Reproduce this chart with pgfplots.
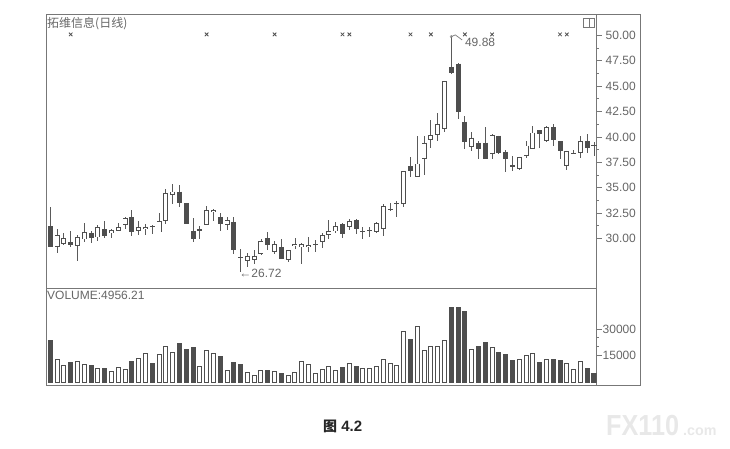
\documentclass[border=0pt]{standalone}
\usepackage{fontspec}
\setmainfont{Liberation Sans}
\newfontfamily\cjk{Noto Sans CJK SC}
\usepackage{pgfplots}
\usepackage{pgfplotstable}
\pgfplotsset{compat=1.18}
\definecolor{dk}{HTML}{4E4E4E}
\definecolor{wk}{HTML}{5A5A5A}
\definecolor{fr}{HTML}{777777}
\definecolor{tx}{HTML}{666666}
\definecolor{wm}{HTML}{E8E8E8}
% filled candles: index high top bottom low volume
\pgfplotstableread{
i hi top bot lo vol
1 33.11 31.21 29.18 29.18 23790
4 30.72 29.61 29.34 29.11 11050
7 30.75 30.56 30.03 29.51 9370
9 31.70 30.92 30.23 30.00 8050
13 32.85 32.07 30.62 30.23 11990
16 31.31 31.21 31.11 30.43 10860
20 35.25 34.62 33.51 33.11 22100
21 33.51 33.51 31.41 31.41 18730
22 31.97 30.75 29.90 29.67 19850
26 32.52 32.13 31.41 30.72 14800
28 32.07 31.64 28.85 28.46 11430
29 28.92 28.16 28.03 26.72 10300
33 30.66 30.00 29.31 28.85 6740
35 29.90 29.11 28.00 28.00 5240
44 31.54 31.38 30.46 30.07 8620
46 31.87 31.80 30.89 30.39 9180
54 38.00 37.11 36.66 36.07 24160
60 49.88 46.89 46.30 46.23 42140
61 47.28 47.21 42.46 41.74 42140
62 42.10 41.51 39.51 38.79 39900
64 39.61 39.44 38.85 37.80 20230
65 40.98 39.44 37.87 37.80 22480
67 40.13 40.13 38.43 38.30 16860
68 38.75 38.56 37.80 36.56 15730
69 38.10 37.21 37.08 36.66 12360
73 40.72 40.66 40.26 38.95 11240
75 41.25 40.95 39.67 39.08 12920
76 39.61 39.57 38.59 37.87 12360
80 40.33 39.57 38.95 38.43 7870
81 39.51 39.21 39.15 38.10 5060
}\filled
% hollow candles
\pgfplotstableread{
i hi top bot lo vol
2 30.98 30.30 29.18 28.52 13110
3 30.56 30.00 29.44 29.34 9370
5 30.33 30.16 29.25 27.80 11990
6 31.48 30.66 29.90 29.67 10110
8 31.31 31.08 30.10 29.74 8050
10 30.98 30.85 30.49 30.00 6370
11 31.54 31.15 30.75 30.75 8620
12 32.07 32.03 31.31 30.98 7490
14 31.74 31.15 30.72 30.33 13670
15 31.41 31.15 30.89 30.33 16480
17 32.46 31.74 30.59 30.59 15920
18 34.92 34.43 31.74 31.41 20230
19 35.41 34.62 34.30 33.38 17040
23 31.21 30.89 30.75 29.90 9180
24 33.18 32.79 31.31 31.31 18170
25 32.89 32.79 32.59 31.74 16480
27 32.07 31.80 31.34 30.82 6930
30 28.52 28.30 27.74 27.15 5810
31 28.85 28.30 27.90 27.44 4120
32 29.90 29.74 28.49 28.33 6740
34 29.77 29.44 28.69 28.46 6370
36 28.85 28.85 27.87 27.67 4120
37 30.00 29.44 29.25 28.92 5620
38 29.51 29.44 29.11 27.47 11800
39 30.10 29.31 29.11 28.62 10110
40 29.84 29.41 29.31 28.69 5240
41 30.56 30.30 29.61 29.08 7490
42 31.80 30.75 30.36 29.90 8990
43 31.61 31.21 30.69 30.56 6930
45 31.87 31.74 31.15 30.82 10490
47 31.08 30.72 30.59 29.97 7870
48 31.08 30.82 30.72 30.16 7870
49 31.64 31.48 30.66 30.56 9180
50 33.44 33.18 30.98 30.26 12920
51 33.51 32.92 32.79 32.66 10490
52 33.67 33.51 33.41 32.13 9550
53 36.62 36.62 33.44 33.11 28660
55 40.07 37.38 36.10 36.10 31470
56 40.07 39.44 37.87 36.26 18170
57 41.70 40.20 39.74 38.89 20230
58 42.39 41.28 40.23 39.61 20230
59 45.51 45.51 40.82 40.49 23600
63 40.46 39.93 39.02 38.59 18540
66 40.26 40.20 38.36 37.80 19670
70 38.03 38.03 36.85 36.79 12920
71 39.61 39.15 38.13 37.97 15170
72 41.08 40.43 38.85 38.85 16300
74 41.05 40.98 39.57 39.51 12920
77 38.66 38.62 37.15 36.79 10490
78 38.69 38.43 38.36 38.30 7300
79 40.07 39.57 38.43 37.97 11800
}\hollow
\pgfplotsset{
  panel/.style={
    scale only axis, width=550.5pt, anchor=south west,
    xmin=0.367, xmax=81.37, xtick=\empty,
    ytick pos=right, yticklabel pos=right,
    axis line style={color=fr,line width=0.9pt},
    tick style={color=fr,line width=0.8pt},
    tick align=outside,
    major tick length=5pt, minor tick length=2pt,
    yticklabel style={color=tx,anchor=west,inner sep=0pt,xshift=4pt},
    /pgf/number format/assume math mode=true,
    every axis plot/.append style={forget plot},
  },
  wick/.style={draw=none,mark=none,error bars/.cd,y dir=both,y explicit,error mark=none,
    error bar style={draw=wk,line width=0.9pt}},
  body/.style={draw=none,mark=none,error bars/.cd,y dir=minus,y explicit,error mark=none,
    error bar style={draw=dk,line width=5pt}},
  innerbody/.style={draw=none,mark=none,error bars/.cd,y dir=minus,y explicit,error mark=none,
    error bar style={draw=white,line width=3.2pt}},
}
\begin{document}
\begin{tikzpicture}[x=1pt,y=1pt,every node/.style={font=\fontsize{12}{14}\selectfont}]
\path[use as bounding box] (0,0) rectangle (730,449);
\begin{axis}[panel,at={(46pt,161pt)},height=273.5pt,
  ymin=25.12,ymax=52.06,
  ytick={30,32.5,35,37.5,40,42.5,45,47.5,50},
  minor y tick num=1,
  yticklabel style={/pgf/number format/.cd,fixed,fixed zerofill,precision=2},
  clip=false]
\addplot[wick] table[x=i,y=top,y error plus expr=\thisrow{hi}-\thisrow{top},y error minus expr=\thisrow{top}-\thisrow{lo}]{\filled};
\addplot[wick] table[x=i,y=top,y error plus expr=\thisrow{hi}-\thisrow{top},y error minus expr=\thisrow{top}-\thisrow{lo}]{\hollow};
\addplot[body] table[x=i,y=top,y error minus expr=\thisrow{top}-\thisrow{bot}]{\filled};
\addplot[body] table[x=i,y=top,y error minus expr=\thisrow{top}-\thisrow{bot}]{\hollow};
\addplot[innerbody] table[x=i,y expr=\thisrow{top}-0.09,y error minus expr={max(\thisrow{top}-\thisrow{bot}-0.18,0)}]{\hollow};
% signal marks along the top
\addplot[only marks,mark=x,mark size=2.5pt,color=dk,mark options={line width=0.8pt}] coordinates {
(4,50.1)(24,50.1)(34,50.1)(44,50.1)(45,50.1)(54,50.1)(57,50.1)(62,50.1)(66,50.1)(76,50.1)(77,50.1)};
% leader of the high
\addplot[color=fr,line width=0.7pt,mark=none] coordinates {(60,49.88)(60.6,50.05)(61.6,49.55)};
\addplot[only marks,mark=o,mark size=1.2pt,color=fr] coordinates {(60,49.88)};
\node[anchor=west,color=tx,inner sep=0pt] at (axis cs:62,49.3) {49.88};
\node[anchor=west,color=tx,inner sep=0pt] at (axis cs:28.8,26.55) {←26.72};
\end{axis}
\begin{axis}[panel,at={(46pt,64pt)},height=97pt,
  ymin=-1460,ymax=53030,
  ytick={15000,30000},
  minor y tick num=2,
  scaled y ticks=false,
  yticklabel style={xshift=-3pt,/pgf/number format/.cd,fixed,precision=0,1000 sep={}}]
\addplot[ybar,bar width=4pt,bar shift=0pt,draw=dk,fill=white,line width=1pt] table[x=i,y=vol]{\hollow};
\addplot[ybar,bar width=4pt,bar shift=0pt,draw=dk,fill=dk,line width=1pt] table[x=i,y=vol]{\filled};
\end{axis}
% outer frame and small icon
\draw[color=fr,line width=0.9pt] (46.5,64) rectangle (640,435);
\draw[color=fr,line width=0.8pt] (583.3,421.7) rectangle (594,430.7) (589.3,421.7) -- (589.3,430.7);
% texts
\node[anchor=west,color=tx,inner sep=0pt] at (47,425.5) {\cjk 拓维信息(日线)};
\node[anchor=west,color=tx,inner sep=0pt] at (47,153.3) {VOLUME:4956.21};
\node[anchor=west,color=black!85,inner sep=0pt,font=\fontsize{15}{17}\selectfont\bfseries] at (323,23) {{\cjk\bfseries\fontsize{14}{17}\selectfont 图} 4.2};
\node[anchor=base west,color=wm,inner sep=0pt,font=\fontsize{29}{30}\selectfont\bfseries] at (606,13) {\scalebox{0.87}[1]{FX110}};
\node[anchor=base west,color=wm,inner sep=0pt,font=\fontsize{14.3}{16}\selectfont\bfseries] at (683,13) {.com};
\end{tikzpicture}
\end{document}
